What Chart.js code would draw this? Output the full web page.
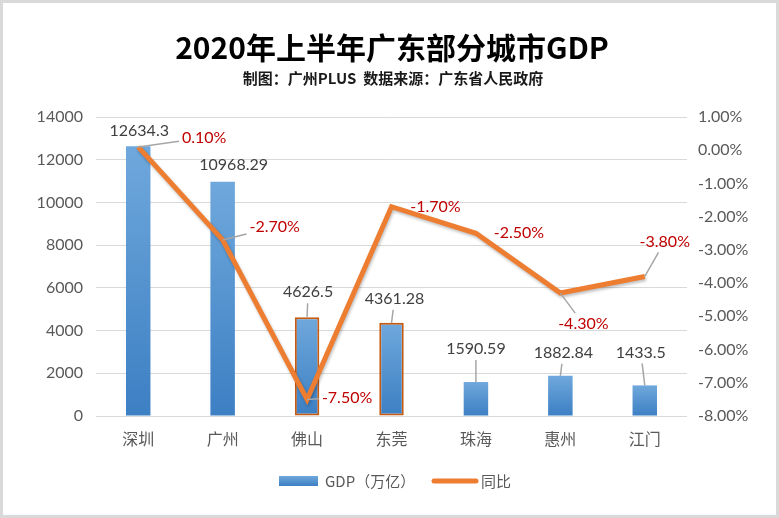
<!DOCTYPE html>
<html>
<head>
<meta charset="utf-8">
<title>2020年上半年广东部分城市GDP</title>
<script src="https://cdn.jsdelivr.net/npm/chart.js@4.4.1/dist/chart.umd.min.js"></script>
<style>
  html, body { margin: 0; padding: 0; background: #fff; }
  #wrap { width: 779px; height: 518px; }
</style>
</head>
<body>
<div id="wrap"><canvas id="gdpChart" width="779" height="518"></canvas></div>
<script>
// data
const cities = ['深圳', '广州', '佛山', '东莞', '珠海', '惠州', '江门'];
const gdpValues = [12634.3, 10968.29, 4626.5, 4361.28, 1590.59, 1882.84, 1433.5];
const growthValues = [0.1, -2.7, -7.5, -1.7, -2.5, -4.3, -3.8];
const gdpTicks = [0, 2000, 4000, 6000, 8000, 10000, 12000, 14000];
const growthTicks = [-8, -7, -6, -5, -4, -3, -2, -1, 0, 1];

// where each data label sits relative to its mark (dx, dy, leader line?)
const barLabelPos = [[1, -15, false], [11, -17, false], [1, -25, true], [3, -24, true], [0, -33, true], [3, -23, true], [-4, -33, true]];
const lineLabelPos = [[66, -9, true], [52, -13, true], [40, -2, true], [44, 0, false], [43, 0, false], [23, 31, true], [20, -35, true]];

const CJK = '"Noto Sans CJK SC", "Microsoft YaHei", sans-serif';
const NUM = 'Lato, "Noto Sans CJK SC", sans-serif';
const ORANGE = '#ed7d31';

function fmtGdp(v) {
    return String(v);
}
function fmtPct(v) {
    return v.toFixed(2) + '%';
}

function barGradient(ctx) {
    const chart = ctx.chart;
    const area = chart.chartArea;
    if (!area || ctx.raw === undefined) return '#5b9bd5';
    const top = chart.scales.y.getPixelForValue(ctx.raw);
    const g = chart.ctx.createLinearGradient(0, top, 0, area.bottom);
    g.addColorStop(0, '#6fa8dc');
    g.addColorStop(1, '#3c7fc3');
    return g;
}

// the label box edge point on the way from the mark to the label centre
function edgePoint(px, py, cx, cy, hw, hh) {
    const dx = px - cx, dy = py - cy;
    const s = Math.max(Math.abs(dx) / hw, Math.abs(dy) / hh);
    if (s <= 1) return null;
    return [cx + dx / s, cy + dy / s];
}

const labelsPlugin = {
    id: 'dataLabels',
    afterDatasetsDraw(chart) {
        const c = chart.ctx;
        c.save();
        c.font = '16px ' + NUM;
        c.textAlign = 'center';
        c.textBaseline = 'middle';
        const sets = [
            { idx: 1, pos: barLabelPos, fmt: fmtGdp, color: '#404040' },
            { idx: 0, pos: lineLabelPos, fmt: fmtPct, color: '#c00000' }
        ];
        sets.forEach(s => {
            const meta = chart.getDatasetMeta(s.idx);
            const values = chart.data.datasets[s.idx].data;
            meta.data.forEach((el, i) => {
                const [dx, dy, leader] = s.pos[i];
                const text = s.fmt(values[i]);
                const cx = el.x + dx, cy = el.y + dy;
                if (leader) {
                    const hw = c.measureText(text).width / 2 + 3;
                    const e = edgePoint(el.x, el.y, cx, cy, hw, 11);
                    if (e) {
                        c.strokeStyle = '#a6a6a6';
                        c.lineWidth = 1.5;
                        c.beginPath();
                        c.moveTo(el.x, el.y);
                        c.lineTo(e[0], e[1]);
                        c.stroke();
                    }
                }
                c.fillStyle = s.color;
                c.fillText(text, cx, cy);
            });
        });
        c.restore();
    }
};

const framePlugin = {
    id: 'frame',
    afterDraw(chart) {
        const c = chart.ctx;
        c.save();
        // title block
        c.textAlign = 'center';
        c.textBaseline = 'middle';
        c.fillStyle = '#000';
        c.font = 'bold 30px ' + CJK;
        c.fillText('2020年上半年广东部分城市GDP', 392, 48);
        c.fillStyle = '#1a1a1a';
        c.font = 'bold 15px ' + CJK;
        c.fillText('制图：广州PLUS  数据来源：广东省人民政府', 393, 78);

        // legend
        const ly = 481;
        const g = c.createLinearGradient(0, ly - 5, 0, ly + 5);
        g.addColorStop(0, '#6fa8dc');
        g.addColorStop(1, '#3c7fc3');
        c.fillStyle = g;
        c.fillRect(279, ly - 5, 39, 10);
        c.textAlign = 'left';
        c.fillStyle = '#595959';
        c.font = '15px ' + CJK;
        c.fillText('GDP（万亿）', 325, ly);
        c.strokeStyle = ORANGE;
        c.lineWidth = 5;
        c.lineCap = 'round';
        c.beginPath();
        c.moveTo(434, ly);
        c.lineTo(476, ly);
        c.stroke();
        c.fillText('同比', 481, ly);

        // outer border
        c.strokeStyle = '#d9d9d9';
        c.lineWidth = 3;
        c.strokeRect(1.5, 1.5, 776, 515);
        c.restore();
    }
};

const lineShadow = {
    id: 'lineShadow',
    beforeDatasetDraw(chart, args) {
        if (args.index !== 0) return;
        const c = chart.ctx;
        c.save();
        c.shadowColor = 'rgba(0,0,0,0.25)';
        c.shadowBlur = 3;
        c.shadowOffsetX = 1;
        c.shadowOffsetY = 2;
    },
    afterDatasetDraw(chart, args) {
        if (args.index !== 0) return;
        chart.ctx.restore();
    }
};

new Chart(document.getElementById('gdpChart'), {
    type: 'bar',
    data: {
        labels: cities,
        datasets: [{
            type: 'line',
            label: '同比',
            data: growthValues,
            yAxisID: 'y1',
            borderColor: ORANGE,
            borderWidth: 5,
            pointRadius: 0,
            tension: 0,
            order: 0
        }, {
            type: 'bar',
            label: 'GDP（万亿）',
            data: gdpValues,
            yAxisID: 'y',
            backgroundColor: barGradient,
            borderColor: ['rgba(0,0,0,0)', 'rgba(0,0,0,0)', '#c55a11', '#c55a11', 'rgba(0,0,0,0)', 'rgba(0,0,0,0)', 'rgba(0,0,0,0)'],
            borderWidth: [0, 0, 2, 2, 0, 0, 0],
            borderSkipped: false,
            categoryPercentage: 1,
            barPercentage: 0.29,
            order: 1
        }]
    },
    options: {
        responsive: false,
        animation: false,
        layout: { padding: { top: 117, bottom: 62, left: 0, right: 0 } },
        plugins: {
            legend: { display: false },
            tooltip: { enabled: false }
        },
        scales: {
            x: {
                offset: true,
                grid: { display: false },
                border: { display: false },
                ticks: { color: '#595959', font: { size: 16, family: CJK }, padding: 5 },
                afterFit(scale) { scale.height = 40; }
            },
            y: {
                position: 'left',
                min: gdpTicks[0],
                max: gdpTicks[gdpTicks.length - 1],
                ticks: {
                    stepSize: gdpTicks[1] - gdpTicks[0],
                    color: '#595959',
                    font: { size: 16, family: NUM },
                    padding: 13,
                    callback: v => String(v)
                },
                grid: { color: '#d9d9d9', lineWidth: 1, drawTicks: false },
                border: { display: false },
                afterFit(scale) { scale.width = 96; }
            },
            y1: {
                position: 'right',
                min: growthTicks[0],
                max: growthTicks[growthTicks.length - 1],
                ticks: {
                    stepSize: 1,
                    color: '#595959',
                    font: { size: 16, family: NUM },
                    padding: 11,
                    callback: v => fmtPct(v)
                },
                grid: { display: false, drawTicks: false },
                border: { display: false },
                afterFit(scale) { scale.width = 92; }
            }
        }
    },
    plugins: [lineShadow, labelsPlugin, framePlugin]
});
</script>
</body>
</html>
